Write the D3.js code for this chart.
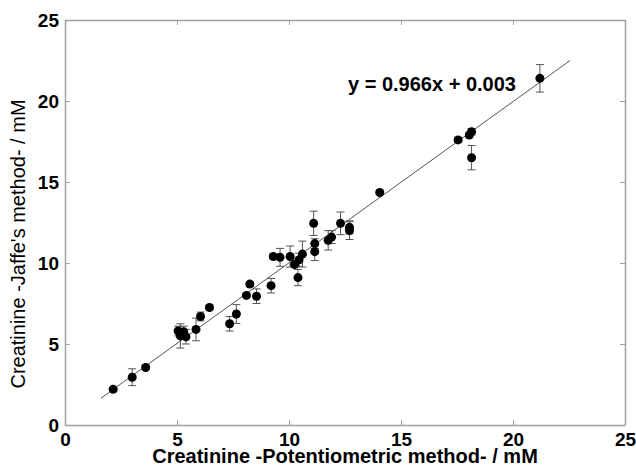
<!DOCTYPE html>
<html>
<head>
    <script src="https://d3js.org/d3.v7.min.js"></script>
    <style>
        body { margin: 0; background: #fff; }
        text { font-family: "Liberation Sans", Arial, sans-serif; fill: #000; }
        .tick-label { font-size: 19px; font-weight: bold; }
    </style>
</head>
<body>
    <div id="chart"></div>
    <script>
        // values
        const potentiometric = [2.15, 3.0, 3.6, 5.05, 5.3, 5.15, 5.4, 5.25, 5.85, 6.05, 6.45, 7.35, 7.65, 8.1, 8.25, 8.55,
            9.2, 9.3, 9.6, 10.05, 10.25, 10.4, 10.45, 10.6, 11.1, 11.15, 11.15, 11.75, 11.9, 12.3, 12.7, 12.7,
            14.05, 17.55, 18.05, 18.15, 18.15, 21.2];
        const jaffe = [2.2, 2.95, 3.55, 5.8, 5.75, 5.5, 5.45, 5.65, 5.9, 6.7, 7.25, 6.25, 6.85, 8.0, 8.7, 7.95,
            8.6, 10.4, 10.35, 10.4, 9.9, 9.1, 10.2, 10.55, 12.45, 11.2, 10.7, 11.4, 11.6, 12.45, 12.0, 12.2,
            14.35, 17.6, 17.9, 18.1, 16.5, 21.4];
        const jaffeErr = [0.1, 0.52, 0.12, 0.3, 0.35, 0.75, 0.45, 0.3, 0.7, 0.27, 0.12, 0.45, 0.58, 0.1, 0.15, 0.45,
            0.45, 0.15, 0.55, 0.65, 0.15, 0.5, 0.4, 0.8, 0.75, 0.3, 0.55, 0.6, 0.4, 0.7, 0.55, 0.4,
            0.1, 0.15, 0.15, 0.2, 0.75, 0.85];
        const fitX = [1.6, 22.55];
        const fitY = [1.65, 22.5];
        const tickValues = [0, 5, 10, 15, 20, 25];
        const equation = "y = 0.966x + 0.003";

        const width = 636, height = 468;
        const margin = {left: 65, right: 11, top: 20, bottom: 43};

        const svg = d3.select("#chart").append("svg")
            .attr("width", width)
            .attr("height", height);

        const x = d3.scaleLinear().domain([0, 25]).range([margin.left, width - margin.right]);
        const y = d3.scaleLinear().domain([0, 25]).range([height - margin.bottom, margin.top]);

        const spine = "#a0a0a0";

        // ticks pointing inward on all four sides
        svg.append("g").attr("transform", `translate(0,${y(0)})`)
            .call(d3.axisBottom(x).tickValues(tickValues).tickSizeInner(-5).tickSizeOuter(0))
            .call(g => g.selectAll("text").attr("class", "tick-label").attr("y", 21).attr("dy", null));
        svg.append("g").attr("transform", `translate(${x(0)},0)`)
            .call(d3.axisLeft(y).tickValues(tickValues).tickSizeInner(-5).tickSizeOuter(0))
            .call(g => g.selectAll("text").attr("class", "tick-label").attr("x", -6).attr("dy", "0.36em"));
        svg.append("g").attr("transform", `translate(0,${y(25)})`)
            .call(d3.axisTop(x).tickValues(tickValues).tickSizeInner(-5).tickSizeOuter(0).tickFormat(""));
        svg.append("g").attr("transform", `translate(${x(25)},0)`)
            .call(d3.axisRight(y).tickValues(tickValues).tickSizeInner(-5).tickSizeOuter(0).tickFormat(""));
        svg.selectAll(".domain").attr("stroke", spine).attr("stroke-width", 1.5);
        svg.selectAll(".tick line").attr("stroke", spine);
        svg.selectAll(".tick text").attr("fill", "#000");

        // fitted line
        svg.append("line")
            .attr("x1", x(fitX[0])).attr("y1", y(fitY[0]))
            .attr("x2", x(fitX[1])).attr("y2", y(fitY[1]))
            .attr("stroke", "#555").attr("stroke-width", 1);

        const pts = potentiometric.map((v, i) => ({x: v, y: jaffe[i], e: jaffeErr[i]}));

        const err = svg.append("g").attr("stroke", "#555").attr("stroke-width", 1);
        pts.forEach(d => {
            const cx = x(d.x);
            err.append("line").attr("x1", cx).attr("x2", cx).attr("y1", y(d.y - d.e)).attr("y2", y(d.y + d.e));
            err.append("line").attr("x1", cx - 4).attr("x2", cx + 4).attr("y1", y(d.y - d.e)).attr("y2", y(d.y - d.e));
            err.append("line").attr("x1", cx - 4).attr("x2", cx + 4).attr("y1", y(d.y + d.e)).attr("y2", y(d.y + d.e));
        });

        svg.append("g").selectAll("circle")
            .data(pts)
            .join("circle")
            .attr("cx", d => x(d.x))
            .attr("cy", d => y(d.y))
            .attr("r", 4.5)
            .attr("fill", "#000");

        svg.append("text")
            .attr("x", 348).attr("y", 91)
            .attr("font-size", 20).attr("font-weight", "bold")
            .text(equation);

        svg.append("text")
            .attr("x", (x(0) + x(25)) / 2).attr("y", 463)
            .attr("text-anchor", "middle")
            .attr("font-size", 20).attr("font-weight", "bold")
            .text("Creatinine -Potentiometric method- / mM");

        svg.append("text")
            .attr("transform", "translate(25,244) rotate(-90)")
            .attr("text-anchor", "middle")
            .attr("font-size", 20)
            .text("Creatinine -Jaffe's method- / mM");
    </script>
</body>
</html>
